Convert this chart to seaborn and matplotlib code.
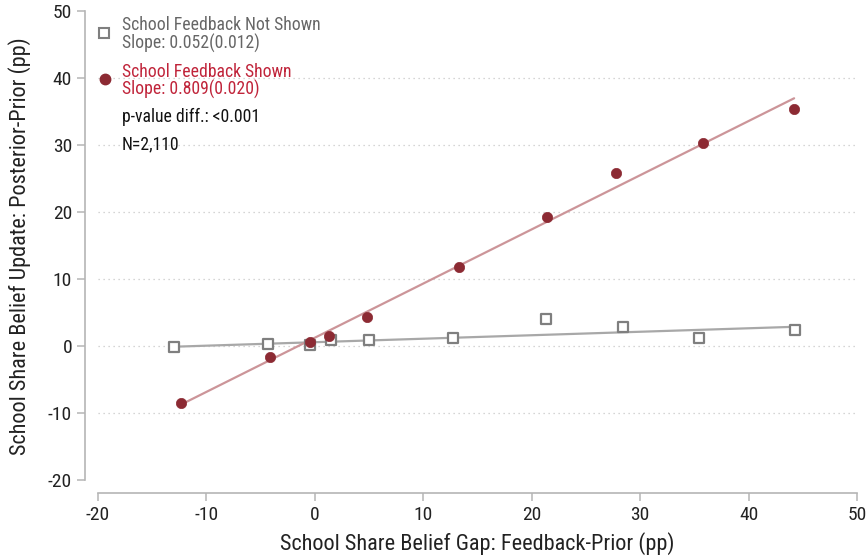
import numpy as np
import pandas as pd
import seaborn as sns
import matplotlib
matplotlib.use("Agg")
import matplotlib.pyplot as plt
from matplotlib import font_manager

# ---- data ----
gap_not_shown = [-13.0, -4.35, -0.45, 1.5, 5.0, 12.7, 21.35, 28.4, 35.4, 44.3]
upd_not_shown = [-0.15, 0.3, 0.2, 0.95, 0.9, 1.15, 4.1, 2.85, 1.2, 2.4]
gap_shown = [-12.3, -4.1, -0.45, 1.3, 4.8, 13.3, 21.4, 27.8, 35.8, 44.2]
upd_shown = [-8.5, -1.65, 0.55, 1.55, 4.3, 11.8, 19.3, 25.9, 30.3, 35.4]
slopes = [0.052, 0.809]
intercepts = [0.58, 1.25]
group_labels = ["School Feedback Not Shown", "School Feedback Shown"]
slope_labels = ["Slope: 0.052(0.012)", "Slope: 0.809(0.020)"]
pvalue_label = "p-value diff.: <0.001"
n_label = "N=2,110"
x_ticks = [-20, -10, 0, 10, 20, 30, 40, 50]
y_ticks = [-20, -10, 0, 10, 20, 30, 40, 50]
grid_y = [-10, 0, 10, 20, 30, 40]

sns.set_theme(style="white")
avail = {f.name for f in font_manager.fontManager.ttflist}
families = [f for f in ["Liberation Sans Narrow", "Arial Narrow", "Roboto Condensed",
                        "Archivo Narrow", "PT Sans Narrow", "Liberation Sans"] if f in avail]
narrow = families[0] if families else "DejaVu Sans"
plt.rcParams["font.family"] = [narrow, "DejaVu Sans"]

df = pd.DataFrame({
    "gap": gap_not_shown + gap_shown,
    "upd": upd_not_shown + upd_shown,
    "group": [group_labels[0]] * len(gap_not_shown) + [group_labels[1]] * len(gap_shown),
})

grey_m = "#7f7f7f"
grey_l = "#a8a8a8"
red_m = "#8c2a33"
red_l = "#cc9599"
red_t = "#c0243a"

fig = plt.figure(figsize=(8.67, 5.56), dpi=100)
ax = fig.add_axes([98 / 867, 1 - 480 / 556, (857 - 98) / 867, (480 - 11.3) / 556])

for gy in grid_y:
    ax.axhline(gy, color="#c8c8c8", lw=0.9, ls=(0, (1, 3)), zorder=0)

# fitted lines
for xs, b, a, c in [(gap_not_shown, slopes[0], intercepts[0], grey_l),
                    (gap_shown, slopes[1], intercepts[1], red_l)]:
    xr = np.array([min(xs), max(xs)])
    ax.plot(xr, a + b * xr, color=c, lw=1.6, zorder=2)

sub0 = df[df.group == group_labels[0]]
sub1 = df[df.group == group_labels[1]]
sns.scatterplot(data=sub0, x="gap", y="upd", ax=ax, marker="s", s=42,
                facecolor="white", edgecolor=grey_m, linewidth=1.6, zorder=3, legend=False)
sns.scatterplot(data=sub1, x="gap", y="upd", ax=ax, marker="o", s=55,
                color=red_m, edgecolor=red_m, linewidth=0.5, zorder=4, legend=False)

ax.set_xlim(-20, 50)
ax.set_ylim(-20, 50)
ax.set_xticks(x_ticks)
ax.set_yticks(y_ticks)
ax.set_xticklabels([str(t) for t in x_ticks])
ax.set_yticklabels([str(t) for t in y_ticks])

for s in ["top", "right"]:
    ax.spines[s].set_visible(False)
for s in ["left", "bottom"]:
    ax.spines[s].set_color("#b5b5b5")
    ax.spines[s].set_linewidth(1.2)
ax.spines["left"].set_position(("outward", 9.7))
ax.spines["bottom"].set_position(("outward", 9.4))
ax.tick_params(axis="both", which="major", direction="out", length=6, width=1.1,
               color="#b5b5b5", labelsize=14, labelcolor="#222222", pad=3,
               left=True, bottom=True)

ax.set_xlabel("School Share Belief Gap: Feedback-Prior (pp)", fontsize=16, color="#222222", labelpad=6)
ax.set_ylabel("School Share Belief Update: Posterior-Prior (pp)", fontsize=16, color="#222222", labelpad=12)

# legend block (pixel-based positions in figure coordinates)
def fx(px):
    return px / 867
def fy(py):
    return 1 - py / 556

fig.lines.append(plt.Line2D([fx(104)], [fy(33)], marker="s", ms=6.5, mfc="white",
                            mec=grey_m, mew=1.5, ls="none", transform=fig.transFigure))
fig.lines.append(plt.Line2D([fx(105)], [fy(79)], marker="o", ms=7.5, mfc=red_m,
                            mec=red_m, ls="none", transform=fig.transFigure))
fs = 12.7
fig.text(fx(122), fy(25), group_labels[0], color="#666666", fontsize=fs, va="center")
fig.text(fx(122), fy(43), slope_labels[0], color="#666666", fontsize=fs, va="center")
fig.text(fx(122), fy(72), group_labels[1], color=red_t, fontsize=fs, va="center")
fig.text(fx(122), fy(89), slope_labels[1], color=red_t, fontsize=fs, va="center")
fig.text(fx(122), fy(117), pvalue_label, color="#111111", fontsize=fs, va="center")
fig.text(fx(122), fy(144), n_label, color="#111111", fontsize=fs, va="center")

fig.savefig("out.png", dpi=100, facecolor="white")
